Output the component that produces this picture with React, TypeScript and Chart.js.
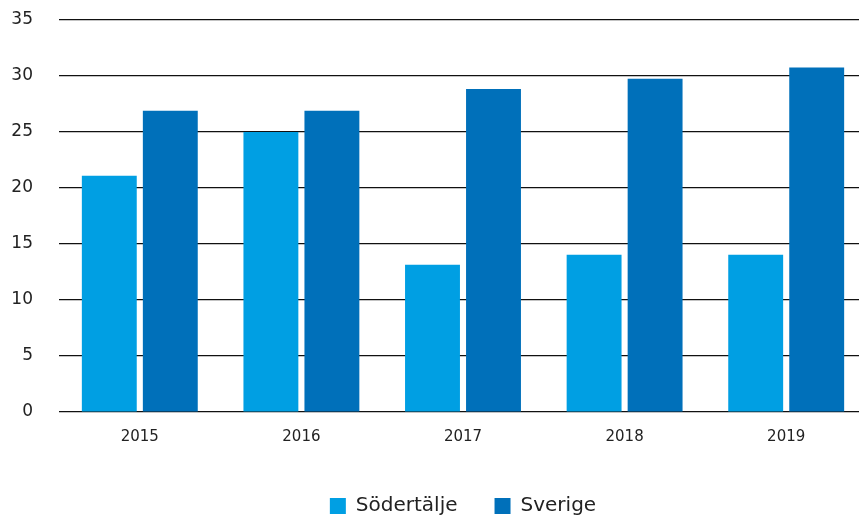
import React, { useEffect, useRef } from "react";
import { Chart, registerables } from "chart.js";

Chart.register(...registerables);

const categories = ["2015", "2016", "2017", "2018", "2019"];
const sodertalje = [21.1, 25.0, 13.15, 14.05, 14.05];
const sverige = [26.9, 26.9, 28.85, 29.75, 30.75];
const seriesNames = ["Södertälje", "Sverige"];

const FONT = "'DejaVu Sans', sans-serif";

export default function App() {
  const ref = useRef<HTMLCanvasElement | null>(null);

  useEffect(() => {
    document.body.style.margin = "0";
    const ctx = ref.current;
    if (!ctx) return;
    const chart = new Chart(ctx, {
      type: "bar",
      data: {
        labels: categories,
        datasets: [
          {
            label: seriesNames[0],
            data: sodertalje,
            backgroundColor: "#009FE3",
            categoryPercentage: 0.755,
            barPercentage: 0.9,
          },
          {
            label: seriesNames[1],
            data: sverige,
            backgroundColor: "#0070BA",
            categoryPercentage: 0.755,
            barPercentage: 0.9,
          },
        ],
      },
      options: {
        animation: false,
        responsive: true,
        maintainAspectRatio: false,
        layout: { padding: { top: 20, right: 1, bottom: 0, left: 0 } },
        scales: {
          x: {
            grid: { display: false },
            border: { display: false },
            afterFit: (scale: any) => {
              scale.height = 47;
            },
            ticks: {
              color: "#222",
              font: { family: FONT, size: 15 },
              padding: 8,
            },
          },
          y: {
            min: 0,
            max: 35,
            afterFit: (scale: any) => {
              scale.width = 59;
              scale.paddingTop = 0;
              scale.paddingBottom = 0;
            },
            ticks: {
              stepSize: 5,
              color: "#222",
              font: { family: FONT, size: 17 },
              padding: 26,
            },
            grid: {
              color: "#111",
              lineWidth: 1.2,
              drawTicks: false,
            },
            border: { display: false },
          },
        },
        plugins: {
          tooltip: { enabled: false },
          legend: {
            position: "bottom",
            fullSize: false,
            labels: {
              boxWidth: 16,
              boxHeight: 16,
              padding: 37,
              color: "#222",
              font: { family: FONT, size: 20 },
            },
          },
        },
      },
    });
    return () => chart.destroy();
  }, []);

  return (
    <div style={{ width: 859, height: 520, overflow: "hidden" }}>
      <div style={{ width: 868, height: 526, position: "relative" }}>
        <canvas ref={ref} />
      </div>
    </div>
  );
}
